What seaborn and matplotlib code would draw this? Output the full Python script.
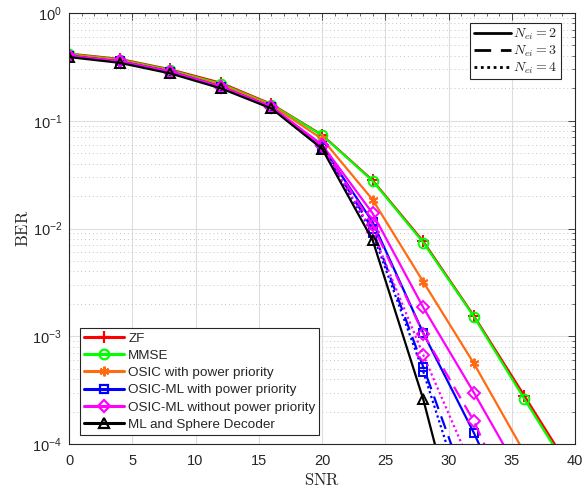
import numpy as np
import pandas as pd
import matplotlib
matplotlib.use('Agg')
import matplotlib.pyplot as plt
import seaborn as sns
from matplotlib.lines import Line2D
from matplotlib.ticker import LogLocator, MultipleLocator, NullFormatter

# ---------------- data ----------------
snr = [0, 4, 8, 12, 16, 20, 24, 28, 32, 36, 40]

ber_zf = [0.42, 0.375, 0.30, 0.225, 0.143, 0.074, 0.028, 0.0076, 0.00155, 2.8e-4, 5.0e-5]
ber_mmse = [0.415, 0.37, 0.295, 0.22, 0.141, 0.0735, 0.0276, 0.0074, 0.00152, 2.6e-4, 4.6e-5]
ber_osic = [0.41, 0.365, 0.29, 0.215, 0.139, 0.068, 0.0185, 0.0032, 5.6e-4, 8.3e-5, 1.2e-5]

ber_osicml_n2 = [0.40, 0.355, 0.285, 0.207, 0.134, 0.058, 0.0115, 0.00107, 1.27e-4, 1.2e-5, 1e-6]
ber_osicml_n3 = [0.40, 0.355, 0.285, 0.207, 0.133, 0.057, 0.0098, 5.2e-4, 2.6e-5, 1e-6, 1e-7]
ber_osicml_n4 = [0.40, 0.355, 0.285, 0.207, 0.133, 0.056, 0.0090, 4.7e-4, 1.6e-5, 1e-6, 1e-7]

ber_osicml_np_n2 = [0.40, 0.355, 0.285, 0.207, 0.134, 0.060, 0.0138, 0.00185, 3.0e-4, 4.5e-5, 5e-6]
ber_osicml_np_n3 = [0.40, 0.355, 0.285, 0.207, 0.134, 0.059, 0.0108, 0.00106, 1.63e-4, 1.5e-5, 1e-6]
ber_osicml_np_n4 = [0.40, 0.355, 0.285, 0.207, 0.133, 0.058, 0.0093, 6.7e-4, 5.5e-5, 3e-6, 1e-7]

ber_ml = [0.39, 0.345, 0.275, 0.200, 0.130, 0.055, 0.0078, 2.6e-4, 4e-6, 1e-7, 1e-8]

method_labels = ['ZF', 'MMSE', 'OSIC with power priority', 'OSIC-ML with power priority',
                 'OSIC-ML without power priority', 'ML and Sphere Decoder']
n_labels = [r'$N_{ei}=2$', r'$N_{ei}=3$', r'$N_{ei}=4$']
x_ticks = [0, 5, 10, 15, 20, 25, 30, 35, 40]

# ---------------- style ----------------
sns.set_style('white')
plt.rcParams['font.family'] = ['Liberation Sans', 'DejaVu Sans']
plt.rcParams['mathtext.fontset'] = 'custom'
plt.rcParams['mathtext.rm'] = 'Liberation Sans'
plt.rcParams['mathtext.it'] = 'Liberation Sans:italic'
plt.rcParams['mathtext.bf'] = 'Liberation Sans:bold'

colors = ['#ff0000', '#00ff00', '#ff6a13', '#0000ff', '#ff00ff', '#000000']
markers = ['+', 'o', (6, 2, 0), 's', 'D', '^']
msizes = [8, 7, 7, 6, 6, 7]
lstyles = ['-', (0, (6, 3.5)), (0, (1, 1.3))]
LW = 1.6

fig = plt.figure(figsize=(5.83, 4.95), dpi=100)
ax = fig.add_axes([0.1184, 0.103, 0.868, 0.8707])

def draw(vals, ci, ls):
    sns.lineplot(x=snr, y=vals, ax=ax, color=colors[ci], linestyle=ls,
                 marker=markers[ci], markersize=msizes[ci], markerfacecolor='none',
                 markeredgecolor=colors[ci], markeredgewidth=1.4, linewidth=LW,
                 legend=False)

draw(ber_zf, 0, '-')
draw(ber_mmse, 1, '-')
draw(ber_osic, 2, '-')
draw(ber_osicml_n2, 3, lstyles[0])
draw(ber_osicml_n3, 3, lstyles[1])
draw(ber_osicml_n4, 3, lstyles[2])
draw(ber_osicml_np_n2, 4, lstyles[0])
draw(ber_osicml_np_n3, 4, lstyles[1])
draw(ber_osicml_np_n4, 4, lstyles[2])
draw(ber_ml, 5, '-')

ax.set_yscale('log')
ax.set_xlim(0, 40)
ax.set_ylim(1e-4, 1)
ax.set_xticks(x_ticks)
ax.set_xticklabels([str(t) for t in x_ticks])
ax.xaxis.set_minor_locator(MultipleLocator(1))
ax.yaxis.set_major_locator(LogLocator(base=10, numticks=10))
ax.yaxis.set_minor_locator(LogLocator(base=10, subs=np.arange(2, 10), numticks=20))
ax.yaxis.set_minor_formatter(NullFormatter())

ax.grid(True, which='major', color='#dedede', linewidth=0.8, linestyle='-')
ax.yaxis.grid(True, which='minor', color='#c4c4c4', linewidth=0.7, linestyle=(0, (1, 3)))
ax.set_axisbelow(True)

ax.tick_params(which='both', direction='in', top=True, right=True, colors='#262626',
               labelsize=10.5, labelcolor='#262626')
ax.tick_params(which='major', length=5, width=0.6)
ax.tick_params(which='minor', length=2.5, width=0.5)
ax.tick_params(axis='x', which='major', pad=7)
ax.tick_params(axis='y', which='major', pad=5)
for sp in ax.spines.values():
    sp.set_color('#262626')
    sp.set_linewidth(0.8)

ax.set_xlabel(r'$\mathrm{SNR}$', fontsize=12, math_fontfamily='cm', labelpad=3, color='#262626')
ax.set_ylabel(r'$\mathrm{BER}$', fontsize=12, math_fontfamily='cm', labelpad=1, color='#262626')

# method legend
h1 = [Line2D([0], [0], color=colors[i], marker=markers[i], markersize=msizes[i],
             markerfacecolor='none', markeredgecolor=colors[i], markeredgewidth=1.6,
             linewidth=2.2) for i in range(6)]
leg1 = ax.legend(h1, method_labels, loc='lower left', bbox_to_anchor=(0.021, 0.021),
                 borderaxespad=0, fontsize=9.7, handlelength=3.0, labelspacing=0.36,
                 handletextpad=0.3, borderpad=0.3, fancybox=False, framealpha=1,
                 edgecolor='#262626')
leg1.get_frame().set_linewidth(0.8)
ax.add_artist(leg1)

# N_ei legend
h2 = [Line2D([0], [0], color='black', linestyle=lstyles[i], linewidth=2.0) for i in range(3)]
leg2 = ax.legend(h2, n_labels, loc='upper right', bbox_to_anchor=(0.972, 0.977),
                 borderaxespad=0, fontsize=10, handlelength=2.7, labelspacing=0.12,
                 handletextpad=0.15, borderpad=0.25, fancybox=False, framealpha=1,
                 edgecolor='#262626')
leg2.get_frame().set_linewidth(0.8)
for t in leg2.get_texts():
    t.set_math_fontfamily('cm')

fig.savefig('out.png', dpi=100)
